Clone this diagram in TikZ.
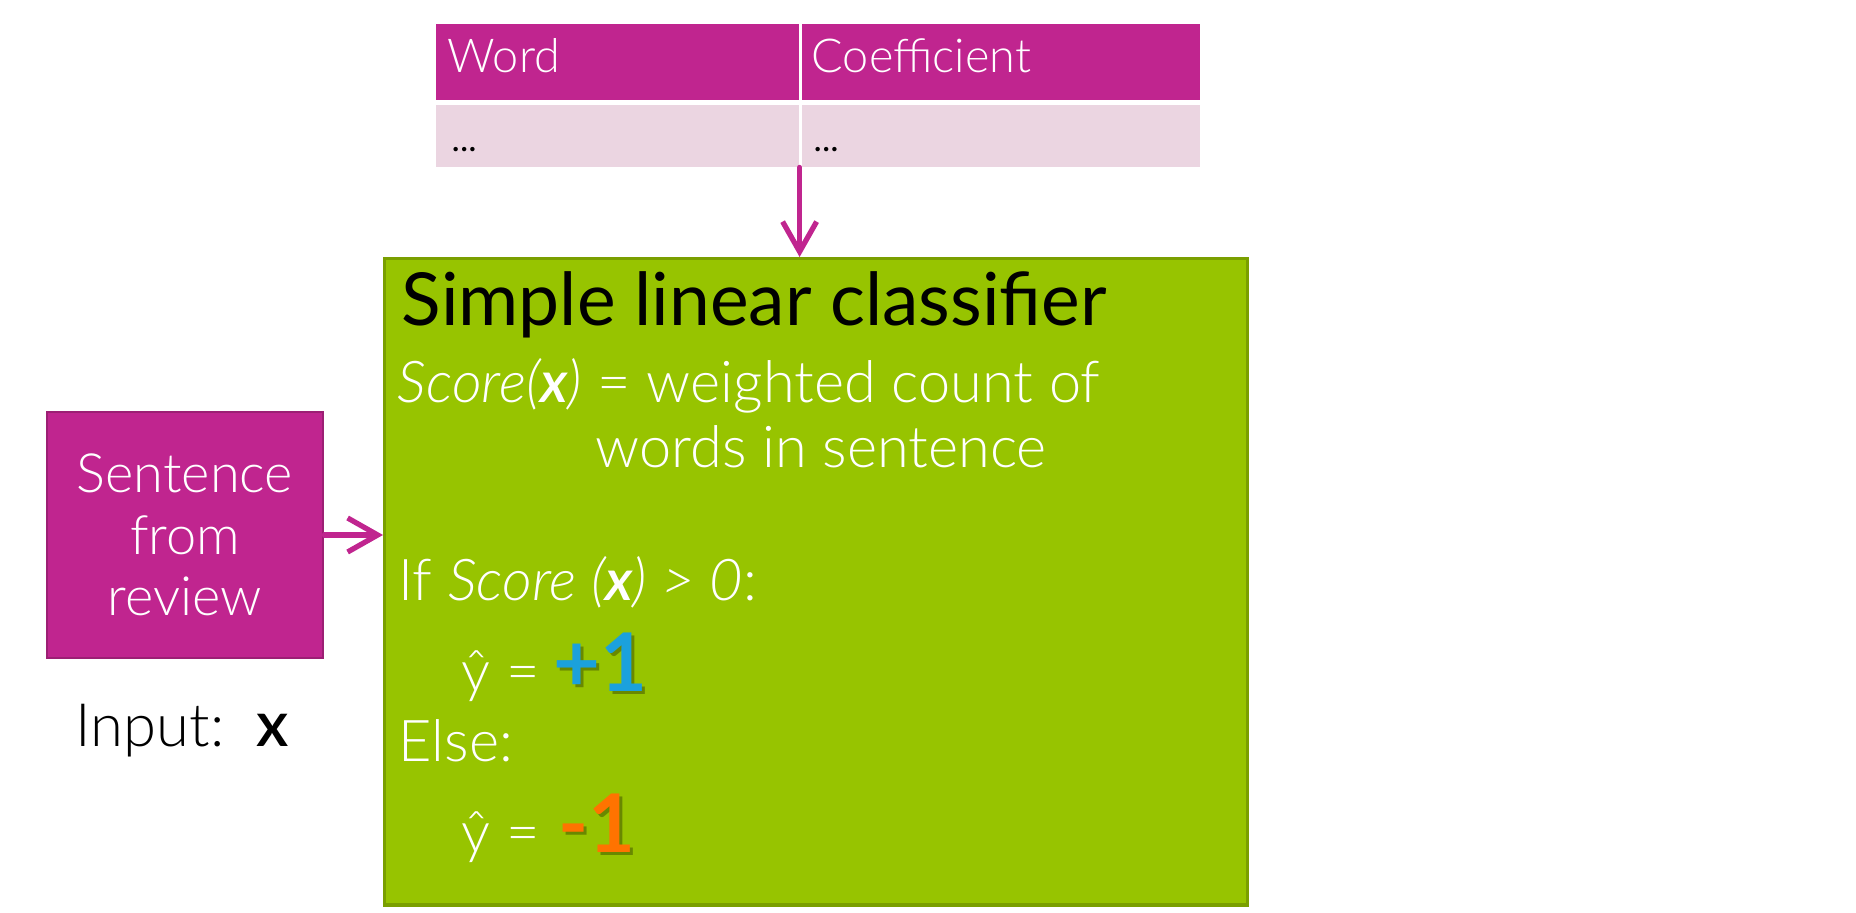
\documentclass[tikz,border=0pt]{standalone}
\usepackage{fontspec}
\setmainfont{Lato}
\newfontfamily\lightfont{Lato Light}
\usetikzlibrary{arrows.meta}
\definecolor{magentaA}{HTML}{C0258F}
\definecolor{magentaB}{HTML}{9C1F74}
\definecolor{rowpink}{HTML}{EBD5E1}
\definecolor{limeA}{HTML}{97C400}
\definecolor{limeB}{HTML}{7A9F00}
\definecolor{plusblue}{HTML}{1BA1DC}
\definecolor{minusorange}{HTML}{FF7300}

\begin{document}
\begin{tikzpicture}[
    x=0.01cm, y=-0.01cm,
    headcell/.style={rectangle, fill=magentaA, minimum height=0.76cm, anchor=north west, inner sep=0pt},
    rowcell/.style={rectangle, fill=rowpink, minimum height=0.62cm, anchor=north west, inner sep=0pt},
    celltext/.style={anchor=base west, inner sep=0pt},
    classbox/.style={rectangle, draw=limeB, line width=0.9pt, fill=limeA, minimum width=8.62cm, minimum height=6.46cm, anchor=north west},
    inputbox/.style={rectangle, draw=magentaB, line width=0.8pt, fill=magentaA, minimum width=2.76cm, minimum height=2.46cm, align=center, text=white, font=\lightfont\fontsize{15.4}{17.5}\selectfont},
    wtext/.style={anchor=base west, inner sep=0pt, text=white, font=\lightfont\fontsize{16.4}{19}\selectfont},
    label/.style={anchor=base west, inner sep=0pt, font=\bfseries\fontsize{23}{26}\selectfont},
    arrow/.style={-{Straight Barb[length=3mm, width=3.4mm]}, line width=1.5pt, line cap=round, draw=magentaA}
]
\useasboundingbox (0,0) rectangle (1856,913);

% Coefficient table
\node[headcell, minimum width=3.63cm] (wordhead) at (435,23) {};
\node[headcell, minimum width=3.98cm] (coefhead) at (801,23) {};
\node[rowcell, minimum width=3.63cm] (wordrow) at (435,104) {};
\node[rowcell, minimum width=3.98cm] (coefrow) at (801,104) {};
\node[celltext, text=white, font=\lightfont\fontsize{13.3}{15}\selectfont] (wordtxt) at (447,73) {Word};
\node[celltext, text=white, font=\lightfont\fontsize{13.3}{15}\selectfont] (coeftxt) at (811,73) {Coefficient};
\node[celltext, font=\fontsize{10}{12}\selectfont] (worddots) at (451,152) {...};
\node[celltext, font=\fontsize{10}{12}\selectfont] (coefdots) at (813,152) {...};

% Classifier box
\node[classbox] (clf) at (383,257) {};
\node[anchor=base west, inner sep=0pt, font=\fontsize{20.8}{25}\selectfont] (title) at (401,326) {Simple linear classifier};
\node[wtext] (score) at (397,403) {\textit{Score(\textbf{x})} = weighted count of};
\node[wtext] (words) at (595,468) {words in sentence};
\node[wtext] (ifline) at (398,601) {If \textit{Score (\textbf{x}) > 0}:};
\node[wtext] (yhatpos) at (461,692) {\^{y} =};
\node[label, text=black, opacity=0.3] (posshadow) at (556,695) {+1};
\node[label, text=plusblue] (pos) at (553,692) {+1};
\node[wtext] (elseline) at (398,762) {Else:};
\node[wtext] (yhatneg) at (461,853) {\^{y} =};
\node[label, text=black, opacity=0.3] (negshadow) at (561,856) {-1};
\node[label, text=minusorange] (neg) at (558,853) {-1};

% Input sentence
\node[inputbox] (sentence) at (185,535) {Sentence\\from\\review};
\node[anchor=base west, inner sep=0pt, font=\lightfont\fontsize{17}{20}\selectfont] (inputlbl) at (75,747) {Input:\ \ {\fontsize{18}{20}\selectfont\bfseries x}};

% Arrows into the classifier
\draw[arrow] (wordrow.south east) -- (wordrow.south east |- clf.north);
\draw[arrow] (sentence.east) -- (sentence.east -| clf.west);
\end{tikzpicture}
\end{document}
